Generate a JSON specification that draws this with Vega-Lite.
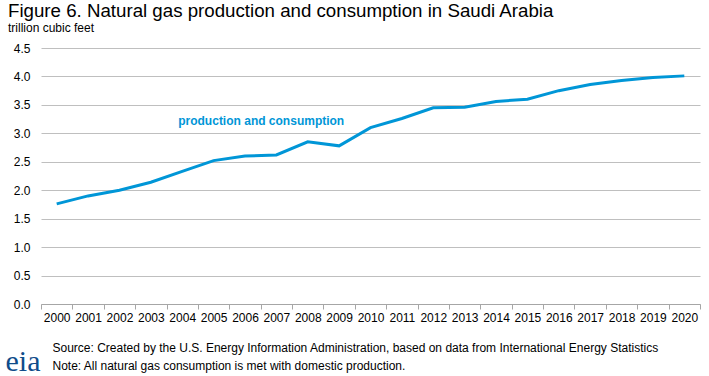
{
  "$schema": "https://vega.github.io/schema/vega-lite/v6.json",
  "width": 659,
  "height": 256,
  "autosize": {"type": "none"},
  "padding": {"left": 41, "top": 48, "right": 9, "bottom": 72},
  "background": "white",
  "config": {
    "font": "Liberation Sans",
    "view": {"stroke": null}
  },
  "title": {
    "text": "Figure 6. Natural gas production and consumption in Saudi Arabia",
    "subtitle": "trillion cubic feet",
    "anchor": "start",
    "frame": "group",
    "dx": -33,
    "offset": 8,
    "font": "Liberation Sans",
    "fontSize": 18.7,
    "fontWeight": "normal",
    "color": "#000000",
    "subtitleFont": "Liberation Sans",
    "subtitleFontSize": 12,
    "subtitleColor": "#000000",
    "subtitlePadding": 2
  },
  "data": {
    "values": [
      {"year": "2000", "value": 1.76},
      {"year": "2001", "value": 1.90},
      {"year": "2002", "value": 2.00},
      {"year": "2003", "value": 2.14},
      {"year": "2004", "value": 2.33},
      {"year": "2005", "value": 2.52},
      {"year": "2006", "value": 2.60},
      {"year": "2007", "value": 2.62},
      {"year": "2008", "value": 2.85},
      {"year": "2009", "value": 2.78},
      {"year": "2010", "value": 3.10},
      {"year": "2011", "value": 3.26},
      {"year": "2012", "value": 3.45},
      {"year": "2013", "value": 3.46},
      {"year": "2014", "value": 3.56},
      {"year": "2015", "value": 3.60},
      {"year": "2016", "value": 3.75},
      {"year": "2017", "value": 3.86},
      {"year": "2018", "value": 3.93},
      {"year": "2019", "value": 3.98},
      {"year": "2020", "value": 4.01}
    ]
  },
  "encoding": {
    "x": {
      "field": "year",
      "type": "ordinal",
      "scale": {"type": "band", "paddingInner": 0, "paddingOuter": 0},
      "axis": {
        "title": ["Source: Created by the U.S. Energy Information Administration, based on data from International Energy Statistics", "Note: All natural gas consumption is met with domestic production."],
        "titleFont": "Liberation Sans",
        "titleFontSize": 12,
        "titleFontWeight": "normal",
        "titleColor": "#000000",
        "titleAnchor": "start",
        "titleAlign": "left",
        "titleBaseline": "alphabetic",
        "titleX": 11,
        "titleY": 47,
        "titleLineHeight": 18,
        "labelAngle": 0,
        "labelFont": "Liberation Sans",
        "labelFontSize": 12,
        "labelColor": "#000000",
        "labelPadding": 3,
        "labelOverlap": false,
        "tickBand": "extent",
        "tickSize": 5,
        "tickColor": "#a6a6a6",
        "domainColor": "#a6a6a6",
        "grid": false
      }
    },
    "y": {
      "field": "value",
      "type": "quantitative",
      "scale": {"domain": [0, 4.5], "nice": false},
      "axis": {
        "title": "eia",
        "titleAngle": 0,
        "titleFont": "Liberation Serif",
        "titleFontSize": 30,
        "titleFontWeight": "normal",
        "titleColor": "#0f4c8a",
        "titleAlign": "left",
        "titleBaseline": "alphabetic",
        "titleX": -36,
        "titleY": 322,
        "values": [0, 0.5, 1, 1.5, 2, 2.5, 3, 3.5, 4, 4.5],
        "format": ".1f",
        "labelFont": "Liberation Sans",
        "labelFontSize": 12,
        "labelColor": "#000000",
        "labelPadding": 11,
        "ticks": false,
        "domain": false,
        "grid": true,
        "gridColor": "#bfbfbf",
        "gridWidth": 1
      }
    }
  },
  "layer": [
    {
      "mark": {"type": "line", "color": "#0096d7", "strokeWidth": 3}
    },
    {
      "transform": [{"filter": "datum.year == '2004'"}],
      "mark": {
        "type": "text",
        "text": "production and consumption",
        "align": "left",
        "baseline": "middle",
        "dx": -4,
        "font": "Liberation Sans",
        "fontSize": 12,
        "fontWeight": "bold",
        "color": "#0096d7"
      },
      "encoding": {
        "y": {"datum": 3.22}
      }
    }
  ]
}
